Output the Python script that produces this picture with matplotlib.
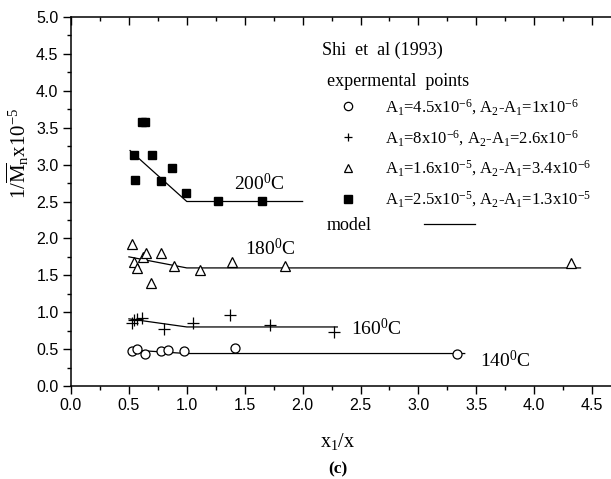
import matplotlib
matplotlib.use("Agg")
import matplotlib.pyplot as plt
from matplotlib.ticker import MultipleLocator

plt.rcParams['font.family'] = ['Liberation Serif', 'DejaVu Serif']
plt.rcParams['mathtext.fontset'] = 'custom'
plt.rcParams['mathtext.rm'] = 'Liberation Serif'
plt.rcParams['mathtext.it'] = 'Liberation Serif:italic'
plt.rcParams['mathtext.bf'] = 'Liberation Serif:bold'

# experimental points, Shi et al (1993)
sq_x = [0.54, 0.55, 0.615, 0.635, 0.70, 0.78, 0.87, 0.99, 1.27, 1.65]
sq_y = [3.13, 2.79, 3.58, 3.58, 3.13, 2.78, 2.96, 2.61, 2.51, 2.51]

tri_x = [0.53, 0.54, 0.57, 0.62, 0.65, 0.69, 0.78, 0.89, 1.11, 1.39, 1.85, 4.32]
tri_y = [1.93, 1.68, 1.60, 1.75, 1.80, 1.40, 1.80, 1.62, 1.57, 1.68, 1.63, 1.67]

plus_x = [0.53, 0.54, 0.57, 0.61, 0.80, 1.05, 1.37, 1.72, 2.27]
plus_y = [0.85, 0.90, 0.91, 0.92, 0.77, 0.85, 0.96, 0.82, 0.73]

circ_x = [0.53, 0.57, 0.64, 0.78, 0.84, 0.98, 1.42, 3.33]
circ_y = [0.47, 0.50, 0.44, 0.48, 0.49, 0.47, 0.52, 0.43]

# model curves
m200_x = [0.51, 1.0, 2.0]
m200_y = [3.19, 2.50, 2.50]
m180_x = [0.50, 1.0, 4.40]
m180_y = [1.75, 1.60, 1.60]
m160_x = [0.50, 1.0, 2.30]
m160_y = [0.91, 0.80, 0.80]
m140_x = [0.50, 1.0, 3.40]
m140_y = [0.49, 0.44, 0.44]

labels = [r'A$_1$=4.5x10$^{-6}$, A$_2$-A$_1$=1x10$^{-6}$',
          r'A$_1$=8x10$^{-6}$, A$_2$-A$_1$=2.6x10$^{-6}$',
          r'A$_1$=1.6x10$^{-5}$, A$_2$-A$_1$=3.4x10$^{-6}$',
          r'A$_1$=2.5x10$^{-5}$, A$_2$-A$_1$=1.3x10$^{-5}$']

temp_text = [r'200$^0$C', r'180$^0$C', r'160$^0$C', r'140$^0$C']
temp_pos = [(1.41, 2.75), (1.50, 1.86), (2.42, 0.78), (3.53, 0.35)]

W, H = 611, 479
fig = plt.figure(figsize=(W / 100, H / 100), dpi=100)
ax = fig.add_axes([71 / W, 1 - 386 / H, 540 / W, 369 / H])

lw = 0.9
for mx, my in [(m140_x, m140_y), (m160_x, m160_y), (m180_x, m180_y)]:
    ax.plot(mx, my, color='black', lw=lw)
model, = ax.plot(m200_x, m200_y, color='black', lw=lw, label='model')

h1, = ax.plot(circ_x, circ_y, ls='none', marker='o', ms=6.5, mfc='white',
              mec='black', mew=0.9, label=labels[0])
h2, = ax.plot(plus_x, plus_y, ls='none', marker='+', ms=8, mec='black',
              mew=0.9, label=labels[1])
h3, = ax.plot(tri_x, tri_y, ls='none', marker='^', ms=7.5, mfc='white',
              mec='black', mew=0.9, label=labels[2])
h4, = ax.plot(sq_x, sq_y, ls='none', marker='s', ms=5.8, color='black',
              label=labels[3])

for t, (tx, ty) in zip(temp_text, temp_pos):
    ax.text(tx, ty, t, fontsize=14, ha='left', va='center')

ax.text(2.165, 4.55, 'Shi  et  al (1993)', fontsize=13, ha='left', va='center')
ax.text(2.21, 4.13, 'expermental  points', fontsize=13, ha='left', va='center')

leg = ax.legend(handles=[h1, h2, h3, h4], loc='upper left',
                bbox_to_anchor=((340 - 71) / 540, (386 - 97) / 369),
                frameon=False, fontsize=12, handlelength=1.0,
                handletextpad=1.7, labelspacing=0.67, borderpad=0,
                borderaxespad=0, numpoints=1)
for lh in leg.legend_handles:
    lh.set_markersize(6)
ax.add_artist(leg)
ax.legend(handles=[model], loc='upper left',
          bbox_to_anchor=((326.7 - 71) / 540, (386 - 217) / 369),
          frameon=False, fontsize=13, markerfirst=False, handlelength=2.8,
          handletextpad=2.9, borderpad=0, borderaxespad=0)

ax.set_xlim(0, 540 / 115.8)
ax.set_ylim(0, 5.0)
ax.xaxis.set_major_locator(MultipleLocator(0.5))
ax.xaxis.set_minor_locator(MultipleLocator(0.25))
ax.yaxis.set_major_locator(MultipleLocator(0.5))
ax.yaxis.set_minor_locator(MultipleLocator(0.25))
ax.xaxis.set_major_formatter(lambda v, p: f'{v:.1f}')
ax.yaxis.set_major_formatter(lambda v, p: f'{v:.1f}')

ax.spines['right'].set_visible(False)
for s in ['left', 'bottom', 'top']:
    ax.spines[s].set_linewidth(1.1)
ax.tick_params(axis='both', which='major', direction='out', length=6,
               width=1.0, labelsize=11.5, pad=3)
ax.tick_params(axis='both', which='minor', direction='out', length=3, width=1.0)
ax.tick_params(axis='x', which='both', top=True)
for t in ax.xaxis.get_ticklabels():
    t.set_family(['Liberation Sans', 'DejaVu Sans'])
for t in ax.yaxis.get_ticklabels():
    t.set_family(['Liberation Sans', 'DejaVu Sans'])
# top ticks point inward
for tk in ax.xaxis.get_major_ticks() + ax.xaxis.get_minor_ticks():
    tk.tick2line.set_marker(3)

fig.text(18 / W, 1 - 153 / H, r'1/$\overline{\mathrm{M}}_\mathrm{n}$x10$^{-5}$',
         rotation=90, ha='center', va='center', fontsize=15)
fig.text(338 / W, 1 - 441 / H, r'x$_1$/x', ha='center', va='center', fontsize=14.5)
fig.text(338 / W, 1 - 469 / H, '(c)', ha='center', va='center', fontsize=12.5,
         fontweight='bold')

fig.savefig('out.png', dpi=100)
